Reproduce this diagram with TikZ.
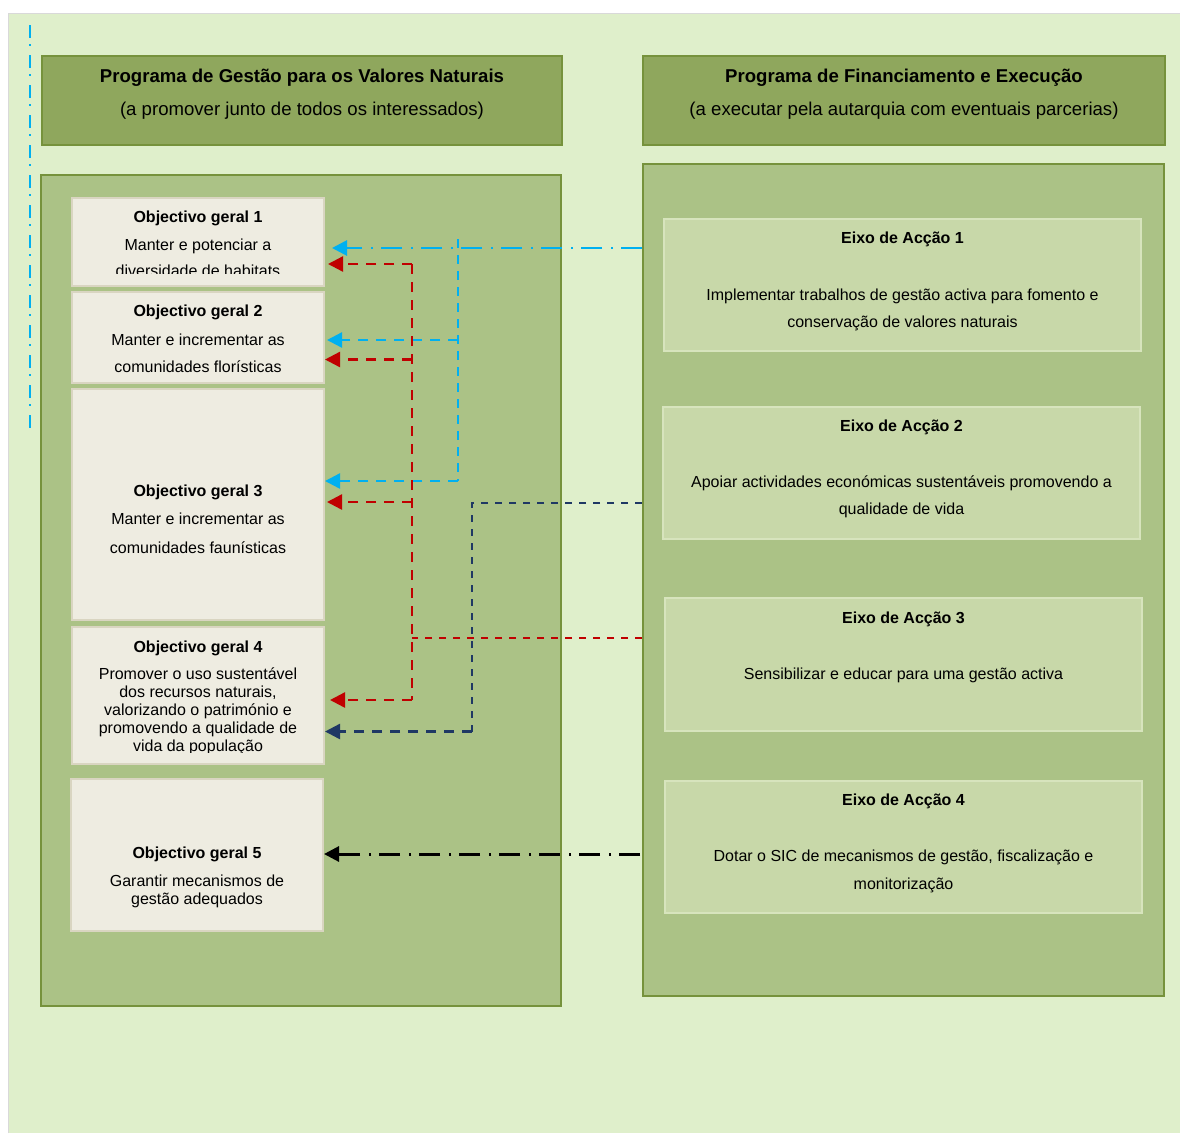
\documentclass[tikz,border=0pt]{standalone}
\usepackage{fontspec}
\setmainfont{Liberation Sans}
\usetikzlibrary{arrows.meta,calc}
\definecolor{bgc}{HTML}{DFEFCB}
\definecolor{hdr}{HTML}{8FA75D}
\definecolor{pnl}{HTML}{ABC286}
\definecolor{olivedk}{HTML}{76923C}
\definecolor{objf}{HTML}{EEECE1}
\definecolor{objb}{HTML}{D9D5C1}
\definecolor{eixf}{HTML}{C8D8A9}
\definecolor{eixb}{HTML}{D7E4BD}
\definecolor{cyanln}{HTML}{00B0F0}
\definecolor{redln}{HTML}{C00000}
\definecolor{navyln}{HTML}{1F3864}
\definecolor{grayb}{HTML}{D9D9D9}
\begin{document}
\begin{tikzpicture}[x=1pt,y=-1pt,
  boxbase/.style={rectangle, inner sep=0pt, anchor=north west},
  hdrbox/.style={boxbase, fill=hdr, draw=olivedk, line width=2pt},
  pnlbox/.style={boxbase, fill=pnl, draw=olivedk, line width=2.2pt},
  objbox/.style={boxbase, fill=objf, draw=objb, line width=2pt},
  eixbox/.style={boxbase, fill=eixf, draw=eixb, line width=2pt},
  txt/.style={anchor=base, inner sep=0pt, font=\fontsize{16}{19}\selectfont},
  btxt/.style={anchor=base, inner sep=0pt, font=\fontsize{16}{19}\selectfont\bfseries},
  htxt/.style={anchor=base, inner sep=0pt, font=\fontsize{18.6}{22}\selectfont},
  hbtxt/.style={anchor=base, inner sep=0pt, font=\fontsize{18.6}{22}\selectfont\bfseries},
  tipc/.style={-{Triangle[length=15pt,width=15pt]}},
  dashdot/.style={line width=2.8pt, dash pattern=on 21pt off 8pt on 2.5pt off 8.5pt},
  arrowdash/.style={line width=2.4pt, dash pattern=on 10pt off 8pt},
  thindash/.style={line width=1.8pt, dash pattern=on 7pt off 7pt},
  vdash/.style={line width=2pt, dash pattern=on 9pt off 7pt},
  marginline/.style={cyanln, line width=1.5pt, dash pattern=on 13pt off 6pt on 2pt off 9pt}
]
\useasboundingbox (0,0) rectangle (1180,1133);
% background
\fill[white] (0,0) rectangle (1180,1133);
\fill[bgc] (9,14) rectangle (1180,1133);
\draw[grayb, line width=1.5pt] (8.5,1133) -- (8.5,13.5) -- (1180,13.5);
\draw[marginline] (30,25) -- (30,433);

% headers
\node[hdrbox, minimum width=520pt, minimum height=89pt] (LH) at (41,55) {};
\node[hdrbox, minimum width=522pt, minimum height=89pt] (RH) at (642,55) {};
\node[hbtxt] (lh1) at (LH.north |- 0,82.3) {Programa de Gestão para os Valores Naturais};
\node[htxt]  (lh2) at (LH.north |- 0,115.5) {(a promover junto de todos os interessados)};
\node[hbtxt] (rh1) at (RH.north |- 0,82.3) {Programa de Financiamento e Execução};
\node[htxt]  (rh2) at (RH.north |- 0,115.5) {(a executar pela autarquia com eventuais parcerias)};

% panels
\node[pnlbox, minimum width=520pt, minimum height=831pt] (LP) at (40,174) {};
\node[pnlbox, minimum width=521pt, minimum height=832pt] (RP) at (642,163) {};

% objective boxes
\node[objbox, minimum width=252pt, minimum height=88pt]  (O1) at (71,197) {};
\node[objbox, minimum width=252pt, minimum height=91pt]  (O2) at (71,291) {};
\node[objbox, minimum width=252pt, minimum height=231pt] (O3) at (71,388) {};
\node[objbox, minimum width=252pt, minimum height=137pt] (O4) at (71,626) {};
\node[objbox, minimum width=252pt, minimum height=152pt] (O5) at (70,778) {};

\node[btxt] (o1a) at (O1.north |- 0,222.7) {Objectivo geral 1};
\node[txt]  (o1b) at (O1.north |- 0,250.3) {Manter e potenciar a};
\begin{scope}
  \clip (70,196) rectangle (324,273);
  \node[txt] (o1c) at (O1.north |- 0,276.5) {diversidade de habitats};
\end{scope}

\node[btxt] (o2a) at (O2.north |- 0,316.7) {Objectivo geral 2};
\node[txt]  (o2b) at (O2.north |- 0,345) {Manter e incrementar as};
\node[txt]  (o2c) at (O2.north |- 0,372) {comunidades florísticas};

\node[btxt] (o3a) at (O3.north |- 0,496) {Objectivo geral 3};
\node[txt]  (o3b) at (O3.north |- 0,524) {Manter e incrementar as};
\node[txt]  (o3c) at (O3.north |- 0,553) {comunidades faunísticas};

\node[btxt] (o4a) at (O4.north |- 0,652) {Objectivo geral 4};
\node[txt]  (o4b) at (O4.north |- 0,679) {Promover o uso sustentável};
\node[txt]  (o4c) at (O4.north |- 0,697) {dos recursos naturais,};
\node[txt]  (o4d) at (O4.north |- 0,715) {valorizando o património e};
\node[txt]  (o4e) at (O4.north |- 0,733) {promovendo a qualidade de};
\begin{scope}
  \clip (70,625) rectangle (324,752);
  \node[txt] (o4f) at (O4.north |- 0,751.5) {vida da população};
\end{scope}

\node[btxt] (o5a) at (O5.north |- 0,858) {Objectivo geral 5};
\node[txt]  (o5b) at (O5.north |- 0,886.5) {Garantir mecanismos de};
\node[txt]  (o5c) at (O5.north |- 0,904) {gestão adequados};

% action boxes
\node[eixbox, minimum width=477pt, minimum height=132pt] (E1) at (663,218) {};
\node[eixbox, minimum width=477pt, minimum height=132pt] (E2) at (662,406) {};
\node[eixbox, minimum width=477pt, minimum height=133pt] (E3) at (664,597) {};
\node[eixbox, minimum width=477pt, minimum height=132pt] (E4) at (664,780) {};

\node[btxt] (e1a) at (E1.north |- 0,243.3) {Eixo de Acção 1};
\node[txt]  (e1b) at (E1.north |- 0,300.5) {Implementar trabalhos de gestão activa para fomento e};
\node[txt]  (e1c) at (E1.north |- 0,327.5) {conservação de valores naturais};

\node[btxt] (e2a) at (E2.north |- 0,431) {Eixo de Acção 2};
\node[txt]  (e2b) at (E2.north |- 0,487.5) {Apoiar actividades económicas sustentáveis promovendo a};
\node[txt]  (e2c) at (E2.north |- 0,514.5) {qualidade de vida};

\node[btxt] (e3a) at (E3.north |- 0,623.3) {Eixo de Acção 3};
\node[txt]  (e3b) at (E3.north |- 0,679.3) {Sensibilizar e educar para uma gestão activa};

\node[btxt] (e4a) at (E4.north |- 0,805) {Eixo de Acção 4};
\node[txt]  (e4b) at (E4.north |- 0,861.5) {Dotar o SIC de mecanismos de gestão, fiscalização e};
\node[txt]  (e4c) at (E4.north |- 0,889) {monitorização};

% connector coordinates
\coordinate (s1) at (RP.west |- 0,248);
\coordinate (s2) at (RP.west |- 0,503);
\coordinate (s3) at (RP.west |- 0,638);
\coordinate (s4) at ([xshift=-2pt]RP.west |- 0,854);
\coordinate (ct) at (458,239);
\coordinate (c2) at (458,340);
\coordinate (c3) at (458,481);
\coordinate (r1) at (412,264);
\coordinate (r2) at (412,359.5);
\coordinate (r3) at (412,502);
\coordinate (r4) at (412,700);
\coordinate (rj) at (412,638);
\coordinate (n1) at (472,503);
\coordinate (n2) at (472,731.5);

% Eixo 1 (cyan)
\draw[cyanln, dashdot, tipc] (s1) -- ([xshift=7pt]O1.east |- s1);
\draw[cyanln, vdash] (ct) -- (c3);
\draw[cyanln, arrowdash, tipc] (c2) -- ([xshift=2pt]O2.east |- c2);
\draw[cyanln, arrowdash, tipc] (c3) -- ([xshift=0pt]O3.east |- c3);

% Eixo 3 (red)
\draw[redln, thindash] (s3) -- (rj);
\draw[redln, arrowdash] (r1) -- (r4);
\draw[redln, arrowdash, tipc] (r1) -- ([xshift=3pt]O1.east |- r1);
\draw[redln, arrowdash, tipc] (r2) -- ([xshift=0pt]O2.east |- r2);
\draw[redln, arrowdash, tipc] (r3) -- ([xshift=2pt]O3.east |- r3);
\draw[redln, arrowdash, tipc] (r4) -- ([xshift=5pt]O4.east |- r4);

% Eixo 2 (navy)
\draw[navyln, thindash] (s2) -- (n1) -- (n2);
\draw[navyln, arrowdash, tipc] (n2) -- ([xshift=0pt]O4.east |- n2);

% Eixo 4 (black)
\draw[black, dashdot, line width=3pt, tipc] (s4) -- ([xshift=0pt]O5.east |- s4);
\end{tikzpicture}
\end{document}
